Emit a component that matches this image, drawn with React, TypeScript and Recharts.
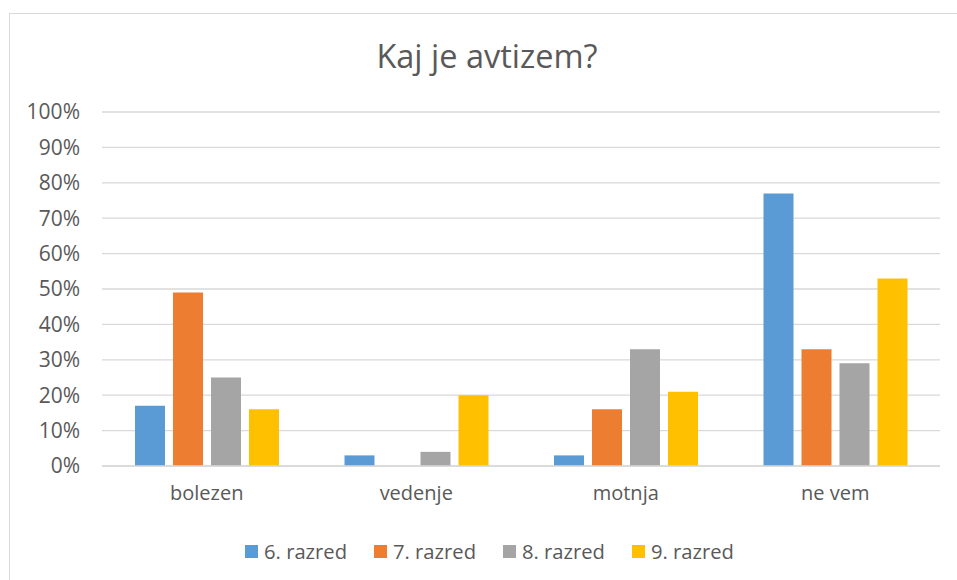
import { BarChart, Bar, XAxis, YAxis, CartesianGrid, Legend } from 'recharts'

const categories = ['bolezen', 'vedenje', 'motnja', 'ne vem']
const razred6 = [17, 3, 3, 77]
const razred7 = [49, 0, 16, 33]
const razred8 = [25, 4, 33, 29]
const razred9 = [16, 20, 21, 53]
const yTicks = [0, 10, 20, 30, 40, 50, 60, 70, 80, 90, 100]

const series = [
  { key: 'r6', name: '6. razred', color: '#5B9BD5' },
  { key: 'r7', name: '7. razred', color: '#ED7D31' },
  { key: 'r8', name: '8. razred', color: '#A5A5A5' },
  { key: 'r9', name: '9. razred', color: '#FFC000' },
]

const data = categories.map((name, i) => ({
  name,
  r6: razred6[i],
  r7: razred7[i],
  r8: razred8[i],
  r9: razred9[i],
}))

const FONT = '"Open Sans", sans-serif'
const TEXT = '#595959'

function LegendRow() {
  return (
    <div style={{ height: 64, display: 'flex', justifyContent: 'center', alignItems: 'center', paddingTop: 6, boxSizing: 'border-box', marginLeft: 39 }}>
      {series.map((s, i) => (
        <div key={s.key} style={{ display: 'flex', alignItems: 'center', marginRight: i < series.length - 1 ? 27 : 0 }}>
          <span style={{ width: 13, height: 13, background: s.color, display: 'inline-block', marginRight: 6 }} />
          <span style={{ fontFamily: FONT, fontSize: 20.2, color: TEXT, lineHeight: '20px' }}>{s.name}</span>
        </div>
      ))}
    </div>
  )
}

export default function App() {
  return (
    <div style={{ position: 'absolute', left: 0, top: 0, width: 957, height: 580, overflow: 'hidden', background: '#fff' }}>
      <div style={{ position: 'absolute', left: 9, top: 13, width: 960, height: 600, border: '1px solid #d9d9d9' }} />
      <div style={{ position: 'absolute', left: 9, top: 35, width: 956, textAlign: 'center', fontFamily: FONT, fontSize: 32.5, color: TEXT, lineHeight: '42px' }}>
        Kaj je avtizem?
      </div>
      <div style={{ position: 'absolute', left: 0, top: 0 }}>
        <BarChart width={957} height={580} data={data} margin={{ top: 112, right: 17, left: 0, bottom: 0 }} barSize={30} barGap={8}>
          <CartesianGrid vertical={false} stroke="#d9d9d9" strokeWidth={1.3} />
          <XAxis
            dataKey="name"
            height={50}
            tickSize={0}
            tickMargin={20}
            axisLine={{ stroke: '#d9d9d9', strokeWidth: 1.3 }}
            tickLine={false}
            tick={{ fill: TEXT, fontSize: 20, fontFamily: FONT }}
          />
          <YAxis
            width={102}
            domain={[0, 100]}
            ticks={yTicks}
            tickFormatter={(v: number) => `${v}%`}
            tickSize={0}
            tickMargin={22}
            axisLine={false}
            tickLine={false}
            interval={0}
            tick={{ fill: TEXT, fontSize: 21, fontFamily: FONT }}
          />
          <Legend verticalAlign="bottom" height={64} content={() => <LegendRow />} />
          {series.map((s) => (
            <Bar key={s.key} dataKey={s.key} name={s.name} fill={s.color} isAnimationActive={false} />
          ))}
        </BarChart>
      </div>
    </div>
  )
}
